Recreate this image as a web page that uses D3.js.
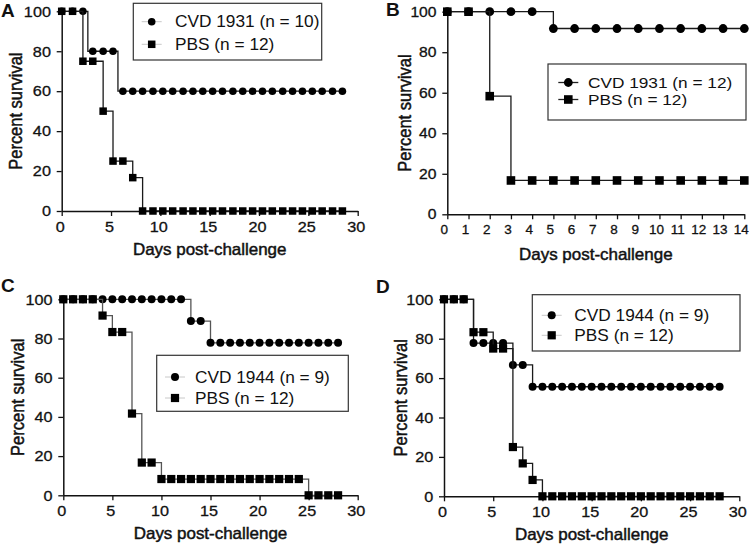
<!DOCTYPE html>
<html><head><meta charset="utf-8">
<script src="https://cdn.jsdelivr.net/npm/d3@7"></script>
<style>body{margin:0;background:#fff}</style>
</head><body>
<svg id="chart" width="750" height="544"></svg>
<script>
// ---------- DATA ----------
// Panel A (days)
const daysA = [0, 1.1, 2.15, 3.15, 4.2, 5.2, 6.2, 7.2, 8.2, 9.25, 10.25, 11.25, 12.3, 13.3, 14.3, 15.3, 16.3, 17.35, 18.35, 19.35, 20.35, 21.35, 22.4, 23.4, 24.4, 25.4, 26.4, 27.45, 28.45];
const cvd1931A = [100, 100, 100, 80, 80, 80, 60, 60, 60, 60, 60, 60, 60, 60, 60, 60, 60, 60, 60, 60, 60, 60, 60, 60, 60, 60, 60, 60, 60];
const pbsA     = [100, 100, 75, 75, 50, 25, 25, 16.7, 0, 0, 0, 0, 0, 0, 0, 0, 0, 0, 0, 0, 0, 0, 0, 0, 0, 0, 0, 0, 0];
const legendA  = ["CVD 1931 (n = 10)", "PBS (n = 12)"];

// Panel B
const daysB = [0, 1, 2, 3, 4, 5, 6, 7, 8, 9, 10, 11, 12, 13, 14];
const cvd1931B = [100, 100, 100, 100, 100, 91.7, 91.7, 91.7, 91.7, 91.7, 91.7, 91.7, 91.7, 91.7, 91.7];
const pbsB     = [100, 100, 58.3, 16.7, 16.7, 16.7, 16.7, 16.7, 16.7, 16.7, 16.7, 16.7, 16.7, 16.7, 16.7];
const legendB  = ["CVD 1931 (n = 12)", "PBS (n = 12)"];

// Panel C
const daysC = [0, 1, 2, 3, 4, 5, 6, 7, 8, 9, 10, 11, 12, 13, 14, 15, 16, 17, 18, 19, 20, 21, 22, 23, 24, 25, 26, 27, 28];
const cvd1944C = [100, 100, 100, 100, 100, 100, 100, 100, 100, 100, 100, 100, 100, 88.9, 88.9, 77.8, 77.8, 77.8, 77.8, 77.8, 77.8, 77.8, 77.8, 77.8, 77.8, 77.8, 77.8, 77.8, 77.8];
const pbsC     = [100, 100, 100, 100, 91.7, 83.3, 83.3, 41.7, 16.7, 16.7, 8.3, 8.3, 8.3, 8.3, 8.3, 8.3, 8.3, 8.3, 8.3, 8.3, 8.3, 8.3, 8.3, 8.3, 8.3, 0, 0, 0, 0];
const legendC  = ["CVD 1944 (n = 9)", "PBS (n = 12)"];

// Panel D
const daysD = [0, 1, 2, 3, 4, 5, 6, 7, 8, 9, 10, 11, 12, 13, 14, 15, 16, 17, 18, 19, 20, 21, 22, 23, 24, 25, 26, 27, 28];
const cvd1944D = [100, 100, 100, 77.8, 77.8, 77.8, 77.8, 66.7, 66.7, 55.6, 55.6, 55.6, 55.6, 55.6, 55.6, 55.6, 55.6, 55.6, 55.6, 55.6, 55.6, 55.6, 55.6, 55.6, 55.6, 55.6, 55.6, 55.6, 55.6];
const pbsD     = [100, 100, 100, 83.3, 83.3, 75, 75, 25, 16.7, 8.3, 0, 0, 0, 0, 0, 0, 0, 0, 0, 0, 0, 0, 0, 0, 0, 0, 0, 0, 0];
const legendD  = ["CVD 1944 (n = 9)", "PBS (n = 12)"];

const ticks30 = [0, 5, 10, 15, 20, 25, 30];
const ticks14 = [0, 1, 2, 3, 4, 5, 6, 7, 8, 9, 10, 11, 12, 13, 14];
const yTicks  = [0, 20, 40, 60, 80, 100];
const xTitle = "Days post-challenge";
const yTitle = "Percent survival";

// ---------- DRAW ----------
const FONT = "'Liberation Sans', Arial, Helvetica, sans-serif";
const SX = 1.08;
const INK = "#111";
const svg = d3.select("#chart").style("font-family", FONT);

function heavy(sel, w) {
  return sel.attr("stroke", INK).attr("stroke-width", w).attr("paint-order", "stroke");
}

function panel(c) {
  const g = svg.append("g");
  const x = d3.scaleLinear().domain([0, c.xmax]).range([c.x0, c.x1]);
  const y = d3.scaleLinear().domain([0, 100]).range([c.y0, c.y1]);

  // axes
  const xa = g.append("g").attr("transform", `translate(0,${c.y0})`)
    .call(d3.axisBottom(x).tickValues(c.xticks).tickSize(5).tickSizeOuter(0).tickPadding(5));
  const ya = g.append("g").attr("transform", `translate(${c.x0},0)`)
    .call(d3.axisLeft(y).tickValues(yTicks).tickSize(5).tickSizeOuter(0).tickPadding(5));
  [xa, ya].forEach(a => {
    a.select(".domain").attr("stroke", INK).attr("stroke-width", 1.5);
    a.selectAll(".tick line").attr("stroke", INK).attr("stroke-width", 1.3);
    heavy(a.selectAll(".tick text").attr("fill", INK).style("font-size", c.tickFont + "px").style("font-family", FONT), 0.3);
  });
  xa.selectAll(".tick text").style("font-size", (c.xTickFont || c.tickFont) + "px")
    .attr("transform", `translate(${c.xTickDx || -2},0) scale(${c.xTickSx || SX},1)`);
  ya.selectAll(".tick text").attr("transform", `scale(${SX},1)`);

  // titles
  heavy(g.append("text").attr("transform", `translate(${(c.x0 + c.x1) / 2},${c.xty}) scale(${SX},1)`)
    .attr("text-anchor", "middle").style("font-size", "15.7px").attr("fill", INK).text(xTitle), 0.45);
  heavy(g.append("text").attr("transform", `translate(${c.ytx},${(c.y0 + c.y1) / 2}) rotate(-90) scale(1,${SX})`)
    .attr("text-anchor", "middle").style("font-size", "16.5px").attr("fill", INK).text(yTitle), 0.45);
  g.append("text").attr("x", c.lx).attr("y", c.ly).style("font-size", "19px").style("font-weight", "bold")
    .attr("fill", INK).text(c.letter);

  // series: first circles (behind), then squares
  const series = [
    {t: c.days, v: c.s1, shape: "circle", curve: c.curve1 || d3.curveStepAfter},
    {t: c.days, v: c.s2, shape: "square", curve: d3.curveStepAfter}
  ];
  series.forEach(s => {
    const pts = s.t.map((d, i) => [d, s.v[i]]);
    g.append("path").datum(pts)
      .attr("d", d3.line().x(d => x(d[0])).y(d => y(d[1])).curve(s.curve))
      .attr("fill", "none").attr("stroke", c.lineColor).attr("stroke-width", 1.3);
    if (s.shape === "circle") {
      g.selectAll(null).data(pts).enter().append("circle")
        .attr("cx", d => x(d[0])).attr("cy", d => y(d[1])).attr("r", c.r).attr("fill", "#000");
    } else {
      g.selectAll(null).data(pts).enter().append("rect")
        .attr("x", d => x(d[0]) - c.sq / 2).attr("y", d => y(d[1]) - c.sq / 2)
        .attr("width", c.sq).attr("height", c.sq).attr("fill", "#000");
    }
  });

  // legend
  const L = c.legend;
  g.append("rect").attr("x", L.x).attr("y", L.y).attr("width", L.w).attr("height", L.h)
    .attr("fill", "#fff").attr("stroke", "#333").attr("stroke-width", 1.2);
  c.labels.forEach((lab, i) => {
    const ry = L.rows[i];
    g.append("line").attr("x1", L.mx - 10).attr("x2", L.mx + 10).attr("y1", ry).attr("y2", ry)
      .attr("stroke", L.lineColor).attr("stroke-width", L.lineW);
    if (i === 0) g.append("circle").attr("cx", L.mx).attr("cy", ry).attr("r", c.r).attr("fill", "#000");
    else g.append("rect").attr("x", L.mx - c.sq / 2).attr("y", ry - c.sq / 2).attr("width", c.sq).attr("height", c.sq).attr("fill", "#000");
    g.append("text").attr("transform", `translate(${L.tx},${ry}) scale(${L.sx || SX},1)`)
      .attr("dy", "0.36em").style("font-size", (L.font || 16) + "px").attr("fill", INK).text(lab);
  });
}

panel({letter: "A", lx: 1, ly: 17, days: daysA, s1: cvd1931A, s2: pbsA, curve1: d3.curveStep,
  xmax: 30, xticks: ticks30, x0: 61.7, x1: 357.7, y0: 211, y1: 11.3, ytx: 22, xty: 255, tickFont: 15,
  r: 3.8, sq: 7.5, lineColor: "#1a1a1a", labels: legendA,
  legend: {x: 133.3, y: 3.3, w: 188.4, h: 56.7, rows: [21.7, 44.3], mx: 151.7, tx: 175, lineColor: "#c8c8c8", lineW: 1}});

panel({letter: "B", lx: 386, ly: 16, days: daysB, s1: cvd1931B, s2: pbsB,
  xmax: 14, xticks: ticks14, x0: 447.3, x1: 744.3, y0: 214.3, y1: 11.7, ytx: 411, xty: 260, tickFont: 14.5,
  xTickFont: 13.5, xTickSx: 1.0, xTickDx: -3.5,
  r: 4.4, sq: 8.6, lineColor: "#1a1a1a", labels: legendB,
  legend: {x: 548, y: 64, w: 198, h: 56, rows: [82.5, 99.5], mx: 568.3, tx: 588, lineColor: "#222", lineW: 1.3, font: 15, sx: 1.15}});

panel({letter: "C", lx: 1, ly: 292, days: daysC, s1: cvd1944C, s2: pbsC,
  xmax: 30, xticks: ticks30, x0: 63.3, x1: 357.7, y0: 495.3, y1: 299.3, ytx: 24, xty: 539, tickFont: 15,
  r: 4, sq: 8.2, lineColor: "#555", labels: legendC,
  legend: {x: 156.7, y: 355.3, w: 191.6, h: 56, rows: [377, 398], mx: 175, tx: 195, lineColor: "#c8c8c8", lineW: 1}});

panel({letter: "D", lx: 376, ly: 293, days: daysD, s1: cvd1944D, s2: pbsD,
  xmax: 30, xticks: ticks30, x0: 444, x1: 739.3, y0: 496.3, y1: 299.3, ytx: 407, xty: 540, tickFont: 15,
  r: 4, sq: 8.2, lineColor: "#1a1a1a", labels: legendD,
  legend: {x: 532.3, y: 294.7, w: 207.7, h: 56.3, rows: [315.3, 335.3], mx: 551.7, tx: 574.3, lineColor: "#c8c8c8", lineW: 1}});
</script>
</body></html>
